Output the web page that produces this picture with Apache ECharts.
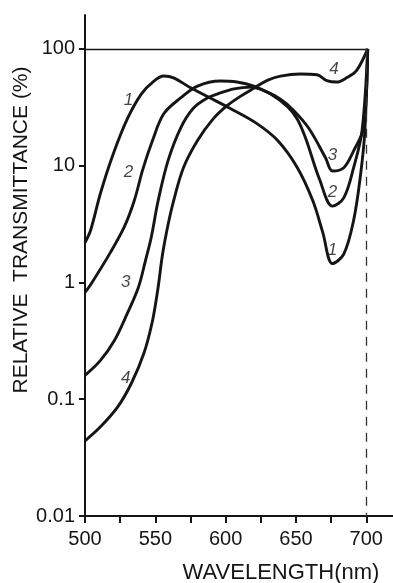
<!DOCTYPE html>
<html><head><meta charset="utf-8">
<script src="https://cdn.jsdelivr.net/npm/echarts@6/dist/echarts.min.js"></script>
<style>html,body{margin:0;padding:0;background:#fff}#c{width:393px;height:583px}</style>
</head><body><div id="c"></div>
<script>
// ---- tick values / labels ----
const xTickValues = [500, 525, 550, 575, 600, 625, 650, 675, 700];
const xLabelValues = [500, 550, 600, 650, 700];
const yTickValues = [0.01, 0.1, 1, 10, 100];
const yTickLabels = ['0.01', '0.1', '1', '10', '100'];

// ---- curve 1 ----
const wl1 = [500, 504, 511, 520, 530, 540, 549, 556, 563, 575, 589, 603, 622, 637, 651, 662, 669, 676, 684, 691, 696, 699, 701];
const t1  = [2.2, 2.8, 5.8, 12.5, 25, 41, 53, 58.5, 56.5, 46.5, 38, 31, 23, 16.4, 9.6, 5.0, 2.7, 1.45, 1.75, 3.4, 8.5, 20, 100];
// ---- curve 2 ----
const wl2 = [500, 505, 518, 528, 535, 541, 548, 556, 568, 580, 596, 608, 620, 632, 644, 651, 657, 667, 676, 684, 691, 697, 701];
const t2  = [0.82, 1.0, 1.8, 3.0, 5.0, 9.2, 16.4, 27.8, 38, 48, 53, 52, 48, 41, 32, 25, 17, 7.5, 4.5, 5.3, 9.6, 20, 100];
// ---- curve 3 ----
const wl3 = [500, 511, 521, 530, 538, 543, 547, 552, 559, 568, 577, 587, 594, 606, 618, 629, 639, 648, 659, 671, 676, 684, 691, 698, 701];
const t3  = [0.16, 0.215, 0.32, 0.54, 0.91, 1.54, 2.4, 5.0, 11, 21, 31, 38, 41, 45.5, 47, 43, 37, 30, 21, 11.7, 9.0, 9.6, 13.4, 21, 100];
// ---- curve 4 ----
const wl4 = [500, 511, 523, 533, 542, 548, 552, 555, 559, 563, 570, 580, 591, 601, 611, 620, 630, 639, 653, 665, 672, 679, 686, 693, 701];
const t4  = [0.044, 0.058, 0.085, 0.137, 0.25, 0.47, 0.91, 1.7, 3.1, 5.0, 9.6, 16.4, 25, 32.6, 39.6, 46, 54, 58.5, 61, 60, 53.5, 52, 56.5, 65, 100];

// ---- curve number annotations ----
const curveLabelText = ['1', '1', '2', '2', '3', '3', '4', '4'];
const curveLabelWl   = [531, 676, 531, 676, 529, 676, 529, 677];
const curveLabelT    = [36, 1.9, 8.7, 5.9, 1.0, 12.2, 0.15, 67];

// ---- reference lines ----
const refLevel = 100;
const refWavelength = 700;
const refEndWavelength = 701;
const yMin = 0.01, yMax = 195, xMin = 500, xMax = 719;

const zip = (a, b) => a.map((v, i) => [v, b[i]]);
const INK = '#151515';
const FONT = 'Liberation Sans';

const curveSeries = [[wl1, t1], [wl2, t2], [wl3, t3], [wl4, t4]].map((c, i) => ({
  type: 'line',
  name: 'curve' + (i + 1),
  data: zip(c[0], c[1]),
  smooth: 0.35,
  showSymbol: false,
  symbol: 'none',
  lineStyle: { color: INK, width: 2.9 },
  silent: true,
  z: 3
}));

curveSeries[0].markLine = {
  silent: true,
  symbol: 'none',
  label: { show: false },
  data: [
    [{ coord: [xMin, refLevel], lineStyle: { type: 'solid', width: 1.3, color: INK } },
     { coord: [refEndWavelength, refLevel] }],
    [{ coord: [refWavelength, refLevel], lineStyle: { type: [9, 7], width: 1.3, color: '#333' } },
     { coord: [refWavelength, yMin] }]
  ]
};

const option = {
  backgroundColor: '#fff',
  animation: false,
  grid: { left: 85, right: 0, top: 15, bottom: 67, containLabel: false },
  xAxis: {
    type: 'value', min: xMin, max: xMax,
    axisLine: { show: true, onZero: false, lineStyle: { color: INK, width: 2 } },
    axisTick: { show: true, length: 7, lineStyle: { color: INK, width: 2 }, customValues: xTickValues },
    axisLabel: { show: true, customValues: xLabelValues, margin: 13, color: INK, fontFamily: FONT, fontSize: 20 },
    splitLine: { show: false }
  },
  yAxis: {
    type: 'log', logBase: 10, min: yMin, max: yMax,
    axisLine: { show: true, onZero: false, lineStyle: { color: INK, width: 2 } },
    axisTick: { show: true, length: 6, lineStyle: { color: INK, width: 2 }, customValues: yTickValues },
    axisLabel: {
      show: true, customValues: yTickValues, margin: 10, color: INK, fontFamily: FONT, fontSize: 20,
      formatter: v => {
        const k = Math.round(Math.log10(v));
        const idx = yTickValues.findIndex(t => Math.round(Math.log10(t)) === k);
        return idx >= 0 ? yTickLabels[idx] : '';
      }
    },
    splitLine: { show: false },
    minorTick: { show: false }
  },
  series: curveSeries.concat([{
    type: 'scatter',
    data: curveLabelWl.map((w, i) => ({ value: [w, curveLabelT[i]], label: { formatter: curveLabelText[i] } })),
    symbolSize: 1,
    itemStyle: { color: 'rgba(0,0,0,0)' },
    silent: true,
    z: 5,
    label: { show: true, position: 'inside', color: INK, fontFamily: FONT, fontStyle: 'italic', fontSize: 17 }
  }]),
  graphic: [
    { type: 'text', x: 281, y: 573, style: { text: 'WAVELENGTH(nm)', fill: INK, font: '22px "Liberation Sans"', align: 'center', verticalAlign: 'middle' } },
    { type: 'text', x: 21, y: 230, rotation: Math.PI / 2, style: { text: 'RELATIVE  TRANSMITTANCE (%)', fill: INK, font: '21px "Liberation Sans"', align: 'center', verticalAlign: 'middle' } }
  ]
};

const chart = echarts.init(document.getElementById('c'), null, { renderer: 'canvas' });
chart.setOption(option);
</script>
</body></html>
